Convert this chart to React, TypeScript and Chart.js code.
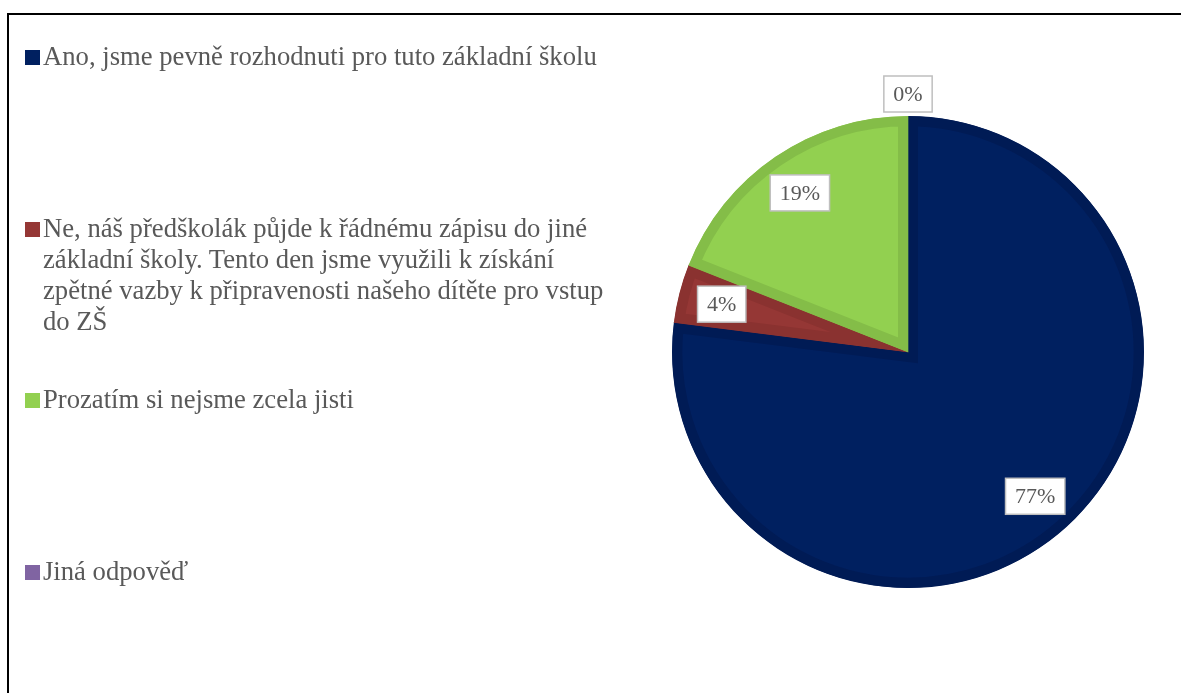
import React, { useEffect, useRef } from "react";
import { Chart, registerables } from "chart.js";

Chart.register(...registerables);

const categories = [
  "Ano, jsme pevně rozhodnuti pro tuto základní školu",
  "Ne, náš předškolák půjde k řádnému zápisu do jiné základní školy. Tento den jsme využili k získání zpětné vazby k připravenosti našeho dítěte pro vstup do ZŠ",
  "Prozatím si nejsme zcela jisti",
  "Jiná odpověď",
];
const values = [77, 4, 19, 0];
const percentLabels = ["77%", "4%", "19%", "0%"];
const fillColors = ["#002060", "#953735", "#92D050", "#8064A2"];
const borderColors = ["#001B55", "#8A3230", "#84BD48", "#735A92"];

const FONT = "Liberation Serif, DejaVu Serif, serif";

const labelPlugin = {
  id: "boxLabels",
  afterDatasetsDraw(chart: any) {
    const ctx = chart.ctx;
    const meta = chart.getDatasetMeta(0);
    ctx.save();
    ctx.font = `22px ${FONT}`;
    ctx.textAlign = "center";
    ctx.textBaseline = "middle";
    meta.data.forEach((arc: any, i: number) => {
      const { x, y, startAngle, endAngle, outerRadius } = arc.getProps(
        ["x", "y", "startAngle", "endAngle", "outerRadius"],
        true
      );
      const mid = (startAngle + endAngle) / 2;
      const text = percentLabels[i];
      const tw = ctx.measureText(text).width;
      const bw = tw + 19;
      const bh = 36;
      const r = values[i] === 0 ? outerRadius + 4 + bh / 2 : outerRadius * 0.815;
      const cx = x + Math.cos(mid) * r;
      const cy = y + Math.sin(mid) * r;
      ctx.fillStyle = "#FFFFFF";
      ctx.fillRect(cx - bw / 2, cy - bh / 2, bw, bh);
      ctx.strokeStyle = "#BFBFBF";
      ctx.lineWidth = 1.5;
      ctx.strokeRect(cx - bw / 2, cy - bh / 2, bw, bh);
      ctx.fillStyle = "#595959";
      ctx.fillText(text, cx, cy + 1);
    });
    ctx.restore();
  },
};

export default function App() {
  const ref = useRef<HTMLCanvasElement | null>(null);

  useEffect(() => {
    if (!ref.current) return;
    const chart = new Chart(ref.current, {
      type: "pie",
      data: {
        labels: categories,
        datasets: [
          {
            data: values,
            backgroundColor: fillColors,
            borderColor: borderColors,
            borderWidth: 10,
            borderAlign: "inner",
            borderJoinStyle: "miter",
          } as any,
        ],
      },
      options: {
        animation: false,
        responsive: true,
        maintainAspectRatio: false,
        radius: 236,
        layout: { padding: { left: 635, top: 11, right: 0, bottom: 0 } },
        plugins: {
          legend: { display: false },
          tooltip: { enabled: false },
        },
        events: [],
      } as any,
      plugins: [labelPlugin],
    });
    return () => chart.destroy();
  }, []);

  const itemTops = [40.5, 212.5, 383.5, 555.5];

  return (
    <div
      style={{
        position: "fixed",
        left: 0,
        top: 0,
        width: 1181,
        height: 693,
        overflow: "hidden",
        background: "#fff",
      }}
    >
      <div
        style={{
          position: "absolute",
          left: 7,
          top: 13,
          width: 2000,
          height: 2000,
          border: "2px solid #000",
        }}
      />
      <div style={{ position: "absolute", left: 0, top: 0, width: 1181, height: 693 }}>
        <canvas ref={ref} />
      </div>
      {categories.map((c, i) => (
        <div
          key={i}
          style={{
            position: "absolute",
            left: 25,
            top: itemTops[i],
            display: "flex",
            alignItems: "flex-start",
            fontFamily: FONT,
            fontSize: 26.67,
            lineHeight: "31px",
            color: "#595959",
          }}
        >
          <div
            style={{
              width: 15,
              height: 15,
              marginTop: 9.5,
              marginRight: 3,
              background: fillColors[i],
              flex: "0 0 auto",
            }}
          />
          <div style={{ width: 578 }}>{c}</div>
        </div>
      ))}
    </div>
  );
}
